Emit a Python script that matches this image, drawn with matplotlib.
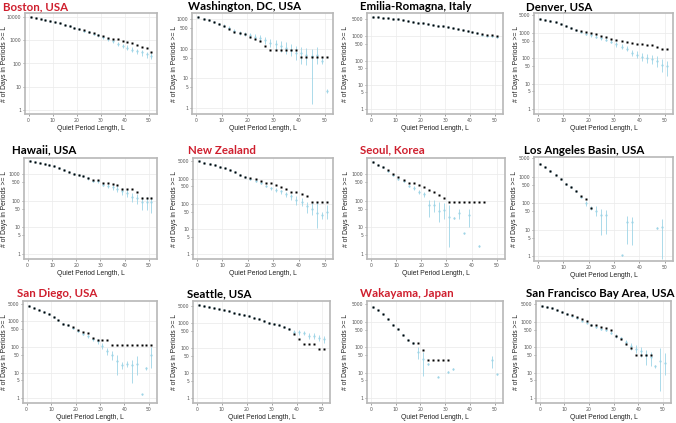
import numpy as np
import matplotlib
matplotlib.use('Agg')
import matplotlib.pyplot as plt
from matplotlib.ticker import FixedLocator, FixedFormatter, NullLocator

nan = np.nan
L = list(range(1, 52, 2))

# ---------------- data (counts) ----------------
boston_obs = [10200, 9300, 8500, 7800, 6900, 6200, 5500, 4800, 4300, 3600, 3100, 2700, 2400, 2000, 1700, 1500, 1300, 1200, 1100, 980, 870, 760, 630, 540, 450, 300]
boston_sim = [10200, 9300, 8500, 7800, 6900, 6200, 5500, 4800, 4200, 3500, 3000, 2600, 2300, 1950, 1650, 1350, 1100, 900, 710, 580, 490, 400, 340, 300, 250, 215]
boston_lo = [9900, 9000, 8200, 7500, 6600, 5900, 5200, 4500, 3900, 3200, 2700, 2300, 2000, 1700, 1400, 1150, 930, 740, 580, 460, 380, 310, 260, 220, 180, 150]
boston_hi = [10500, 9600, 8800, 8100, 7200, 6500, 5800, 5100, 4500, 3800, 3300, 2900, 2600, 2200, 1900, 1550, 1300, 1070, 860, 710, 610, 510, 440, 390, 330, 290]

wash_obs = [1120, 1000, 930, 760, 660, 590, 460, 355, 325, 300, 235, 205, 180, 126, 93, 93, 93, 93, 93, 93, 54, 54, 54, 54, 54, 54]
wash_sim = [1120, 1000, 910, 760, 660, 575, 490, 380, 330, 310, 275, 245, 220, 190, 155, 138, 120, 107, 93, 72, 69, 63, 56, 63, 38, 3.9]
wash_lo = [1050, 940, 850, 700, 600, 520, 430, 330, 280, 260, 225, 195, 170, 145, 115, 95, 75, 65, 55, 40, 30, 28, 1.4, 30, 30, 3.3]
wash_hi = [1190, 1070, 980, 830, 720, 640, 560, 440, 390, 370, 330, 300, 275, 245, 210, 195, 180, 165, 145, 120, 110, 105, 100, 110, 50, 4.5]

emilia_obs = [6300, 6000, 5750, 5500, 5250, 4900, 4570, 4270, 3980, 3630, 3310, 3090, 2880, 2690, 2510, 2340, 2140, 1950, 1820, 1660, 1550, 1410, 1260, 1150, 1070, 1000]
emilia_sim = [6300, 6000, 5750, 5500, 5250, 4900, 4570, 4270, 3980, 3630, 3310, 3090, 2880, 2690, 2500, 2300, 2100, 1900, 1750, 1580, 1460, 1320, 1170, 1060, 980, 900]
emilia_lo = [6000, 5700, 5450, 5220, 4980, 4650, 4340, 4050, 3780, 3450, 3140, 2930, 2730, 2550, 2370, 2180, 1990, 1800, 1650, 1490, 1370, 1240, 1090, 990, 910, 830]
emilia_hi = [6600, 6300, 6050, 5780, 5520, 5150, 4800, 4490, 4180, 3810, 3480, 3250, 3030, 2830, 2630, 2420, 2210, 2000, 1850, 1670, 1550, 1400, 1250, 1130, 1050, 970]

denver_obs = [3630, 3240, 2950, 2570, 2140, 1910, 1550, 1350, 1200, 1100, 1000, 890, 760, 680, 575, 515, 470, 450, 400, 380, 365, 340, 325, 275, 230, 230]
denver_sim = [3630, 3240, 2950, 2570, 2140, 1910, 1550, 1260, 1070, 930, 790, 710, 600, 525, 450, 355, 280, 235, 160, 140, 112, 100, 95, 76, 56, 50]
denver_lo = [3450, 3080, 2800, 2440, 2030, 1810, 1450, 1170, 980, 850, 710, 630, 530, 460, 385, 290, 225, 185, 120, 100, 78, 68, 60, 45, 30, 20]
denver_hi = [3800, 3400, 3100, 2700, 2250, 2010, 1650, 1350, 1160, 1010, 870, 790, 680, 600, 525, 430, 350, 300, 210, 190, 160, 145, 140, 120, 95, 80]

hawaii_obs = [3160, 2880, 2630, 2450, 2190, 2000, 1660, 1410, 1200, 1000, 910, 870, 710, 590, 590, 460, 460, 430, 390, 270, 270, 270, 220, 130, 130, 130]
hawaii_sim = [3160, 2880, 2630, 2450, 2190, 2000, 1660, 1410, 1200, 1000, 890, 830, 680, 560, 525, 400, 355, 315, 280, 225, 200, 140, 125, 90, 90, 90]
hawaii_lo = [3000, 2730, 2490, 2320, 2070, 1890, 1570, 1330, 1130, 940, 830, 770, 620, 500, 460, 340, 290, 250, 210, 160, 140, 90, 75, 45, 45, 35]
hawaii_hi = [3320, 3030, 2770, 2580, 2310, 2110, 1750, 1490, 1270, 1060, 950, 890, 740, 620, 590, 460, 420, 380, 350, 290, 270, 200, 180, 140, 140, 140]

nz_obs = [5100, 4470, 3980, 3550, 3090, 2690, 2290, 1910, 1450, 1170, 1070, 980, 850, 710, 680, 560, 470, 400, 295, 295, 255, 215, 123, 123, 123, 123]
nz_sim = [5100, 4470, 3980, 3550, 3090, 2690, 2290, 1900, 1420, 1140, 955, 795, 675, 525, 425, 370, 315, 250, 200, 140, 125, 80, 63, 45, 35, 50]
nz_lo = [4850, 4250, 3780, 3370, 2930, 2550, 2170, 1790, 1330, 1060, 880, 720, 600, 460, 360, 310, 255, 195, 150, 95, 85, 45, 35, 11, 25, 25]
nz_hi = [5350, 4700, 4180, 3730, 3250, 2830, 2410, 2010, 1510, 1220, 1030, 870, 750, 590, 490, 430, 375, 310, 255, 200, 180, 125, 110, 120, 50, 90]

seoul_obs = [2880, 2240, 1780, 1380, 980, 790, 600, 470, 445, 380, 330, 255, 210, 165, 123, 91, 91, 91, 91, 91, 91, 91, 91, nan, nan, nan]
seoul_sim = [2880, 2240, 1780, 1260, 890, 660, 525, 355, 300, 210, 178, 71, 71, 40, 45, 24, 23, 35, 5.9, 30, nan, 2.0, nan, nan, nan, nan]
seoul_lo = [2750, 2130, 1680, 1180, 830, 610, 480, 315, 260, 170, 140, 25, 38, 16, 20, 1.8, 21, 20, 5.5, 10, nan, 1.9, nan, nan, nan, nan]
seoul_hi = [3000, 2350, 1880, 1340, 950, 710, 570, 395, 340, 250, 215, 107, 107, 91, 85, 68, 25, 50, 6.3, 50, nan, 2.1, nan, nan, nan, nan]

la_obs = [3090, 2340, 1660, 1200, 790, 540, 410, 290, 185, 145, 66, nan, nan, nan, nan, nan, nan, nan, nan, nan, nan, nan, nan, nan, nan, nan]
la_sim = [3090, 2340, 1660, 1200, 790, 540, 410, 290, 178, 100, 66, 50, 35, 35, nan, nan, 1.07, 20, 18.6, nan, nan, nan, nan, 11.2, 12.6, nan]
la_lo = [2950, 2230, 1580, 1140, 750, 510, 385, 270, 165, 80, 55, 32, 6, 6.8, nan, nan, 1.0, 2.8, 2.5, nan, nan, nan, nan, 10.5, 0.8, nan]
la_hi = [3230, 2450, 1740, 1260, 830, 570, 435, 310, 192, 120, 78, 80, 60, 53, nan, nan, 1.1, 34, 30, nan, nan, nan, nan, 12, 25, nan]

sd_obs = [4000, 3470, 2880, 2340, 1950, 1480, 1100, 810, 710, 600, 480, 390, 340, 235, 186, 186, 186, 117, 117, 117, 117, 117, 117, 117, 117, 117]
sd_sim = [4000, 3470, 2880, 2340, 1950, 1480, 1100, 810, 700, 540, 415, 330, 265, 200, 166, 112, 71, 48, 28, 19, 22, 20, 22, 1.4, 15, 50]
sd_lo = [3800, 3300, 2740, 2220, 1850, 1400, 1040, 760, 650, 495, 375, 295, 230, 170, 135, 85, 50, 30, 8, 14, 16, 3.8, 8, 1.3, 13, 15]
sd_hi = [4200, 3640, 3020, 2460, 2050, 1560, 1160, 860, 750, 585, 455, 365, 300, 235, 200, 140, 95, 70, 48, 25, 28, 31, 45, 1.5, 17, 100]

seattle_obs = [5130, 4790, 4370, 3980, 3550, 3240, 2950, 2570, 2340, 2090, 1910, 1620, 1480, 1200, 1020, 930, 850, 690, 575, 370, 235, 148, 148, 148, 93, 93]
seattle_sim = [5130, 4790, 4370, 3980, 3550, 3240, 2950, 2570, 2340, 2090, 1910, 1620, 1480, 1200, 1020, 930, 850, 690, 575, 445, 425, 400, 315, 295, 250, 225]
seattle_lo = [4900, 4550, 4150, 3780, 3370, 3080, 2800, 2440, 2220, 1980, 1810, 1540, 1400, 1130, 960, 870, 790, 640, 520, 360, 340, 320, 240, 225, 185, 165]
seattle_hi = [5400, 5030, 4590, 4180, 3730, 3400, 3100, 2700, 2460, 2200, 2010, 1700, 1560, 1270, 1080, 990, 910, 740, 630, 550, 530, 500, 410, 385, 330, 310]

waka_obs = [3800, 2820, 1950, 1290, 780, 510, 310, 195, 148, 148, 78, 32, 32, 32, 32, 32, nan, nan, nan, nan, nan, nan, nan, nan, nan, nan]
waka_sim = [3800, 2820, 1950, 1290, 780, 510, 310, 195, 148, 63, 35, 22, nan, 7.1, nan, 10.7, 14, nan, nan, nan, nan, nan, nan, nan, 32, 8.9]
waka_lo = [3600, 2680, 1850, 1230, 740, 485, 295, 185, 140, 35, 7.5, 20, nan, 6.5, nan, 10, 13, nan, nan, nan, nan, nan, nan, nan, 15, 8.5]
waka_hi = [4000, 2960, 2050, 1350, 820, 535, 325, 205, 156, 100, 63, 24, nan, 7.5, nan, 11.4, 15, nan, nan, nan, nan, nan, nan, nan, 47, 9.3]

sf_obs = [4170, 3800, 3390, 2880, 2450, 2090, 1780, 1510, 1260, 1070, 760, 720, 645, 590, 480, 275, 205, 132, 91, 49, 49, 49, 49, nan, nan, nan]
sf_sim = [4170, 3800, 3390, 2880, 2450, 2090, 1740, 1410, 1120, 930, 725, 630, 540, 480, 380, 280, 225, 158, 112, 89, 71, 50, 40, 18, 28, 25]
sf_lo = [3970, 3620, 3230, 2740, 2330, 1990, 1650, 1330, 1050, 870, 670, 580, 490, 430, 335, 240, 185, 125, 80, 60, 40, 20, 18, 16, 2, 8]
sf_hi = [4370, 3990, 3560, 3020, 2570, 2190, 1830, 1490, 1190, 990, 780, 680, 590, 530, 425, 320, 265, 195, 150, 125, 105, 80, 65, 20, 90, 60]

titles = ["Boston, USA", "Washington, DC, USA", "Emilia-Romagna, Italy", "Denver, USA",
          "Hawaii, USA", "New Zealand", "Seoul, Korea", "Los Angeles Basin, USA",
          "San Diego, USA", "Seattle, USA", "Wakayama, Japan", "San Francisco Bay Area, USA"]
red_titles = {"Boston, USA", "New Zealand", "Seoul, Korea", "San Diego, USA", "Wakayama, Japan"}

series = [
    (boston_obs, boston_sim, boston_lo, boston_hi),
    (wash_obs, wash_sim, wash_lo, wash_hi),
    (emilia_obs, emilia_sim, emilia_lo, emilia_hi),
    (denver_obs, denver_sim, denver_lo, denver_hi),
    (hawaii_obs, hawaii_sim, hawaii_lo, hawaii_hi),
    (nz_obs, nz_sim, nz_lo, nz_hi),
    (seoul_obs, seoul_sim, seoul_lo, seoul_hi),
    (la_obs, la_sim, la_lo, la_hi),
    (sd_obs, sd_sim, sd_lo, sd_hi),
    (seattle_obs, seattle_sim, seattle_lo, seattle_hi),
    (waka_obs, waka_sim, waka_lo, waka_hi),
    (sf_obs, sf_sim, sf_lo, sf_hi),
]

# ---------------- layout (pixels) ----------------
W, H = 676, 423
boxes = [  # left, right, top, bottom
    (25, 157, 13, 114), (192, 333, 13, 114), (367, 503, 13, 114), (534, 673, 13, 114),
    (24, 157, 158, 259), (193, 333, 158, 259), (367, 505, 158, 259), (534, 673, 157, 261),
    (23, 157, 301, 403), (193, 330, 301, 403), (367, 503, 301, 403), (536, 671, 301, 403),
]
ylabel_x = [5, 175, 346, 516, 5, 175, 347, 514, 5, 175, 346, 516]
ytops = [4.19, 3.19, 3.95, 3.78, 3.6, 3.83, 3.6, 3.75, 3.8, 3.88, 3.82, 3.82]
title_x = [3, 188, 360, 526, 12, 188, 360, 524, 17, 187, 360, 526]
title_y = [6.5, 6.5, 6.5, 6.5, 150, 150, 150, 150, 293.5, 293.5, 293.5, 293.5]

RED = '#cf1f2e'
BLUE = '#9ed4e6'
FRAME = '#b8b8b8'
GRID = '#ececec'
TICKC = '#555555'

fig = plt.figure(figsize=(W / 100, H / 100), dpi=100)

for i, (obs, sim, lo, hi) in enumerate(series):
    l, r, t, b = boxes[i]
    ax = fig.add_axes([l / W, 1 - b / H, (r - l) / W, (b - t) / H])
    ax.set_yscale('log')
    ylo, yhi = 10 ** -0.19, 10 ** ytops[i]
    ax.set_xlim(-1.5, 53.3)
    ax.set_ylim(ylo, yhi)

    x = np.array(L, dtype=float)
    s = np.array(sim, dtype=float)
    lo_a = np.array(lo, dtype=float)
    hi_a = np.array(hi, dtype=float)
    o = np.array(obs, dtype=float)

    for xv in [0, 10, 20, 30, 40, 50]:
        ax.axvline(xv, color=GRID, lw=0.5, zorder=0)
    for yv in [1, 10, 100, 1000, 10000]:
        if yv < yhi:
            ax.axhline(yv, color=GRID, lw=0.6, zorder=0)

    ax.vlines(x, lo_a, hi_a, color=BLUE, lw=0.6, zorder=2)
    ax.plot(x, s, 'o', ms=1.6, color=BLUE, mec='none', zorder=3)
    ax.plot(x, o, 's', ms=2.1, color='black', mec='none', zorder=4)

    if i == 0:
        ticks = [1, 10, 100, 1000, 10000]
    else:
        ticks = [1, 5, 10, 50, 100, 500, 1000, 5000]
    ticks = [tk for tk in ticks if tk <= yhi]
    ax.yaxis.set_major_locator(FixedLocator(ticks))
    ax.yaxis.set_major_formatter(FixedFormatter([str(tk) for tk in ticks]))
    ax.yaxis.set_minor_locator(NullLocator())
    ax.set_xticks([0, 10, 20, 30, 40, 50])
    ax.xaxis.set_minor_locator(NullLocator())

    ax.tick_params(axis='both', labelsize=3.3, colors=TICKC, length=1.5, width=0.4, pad=1.2)
    for sp in ax.spines.values():
        sp.set_color(FRAME)
        sp.set_linewidth(1.2)

    ax.set_xlabel('Quiet Period Length, L', fontsize=4.9, color='#222222', labelpad=1.5,
                  family='Liberation Sans')
    ax.set_ylabel('# of Days in Periods >= L', fontsize=4.9, color='#222222',
                  family='Liberation Sans', va='center')
    ax.yaxis.set_label_coords(ylabel_x[i] / W, 1 - (t + b) / 2 / H, transform=fig.transFigure)

    name = titles[i]
    fig.text(title_x[i] / W, 1 - title_y[i] / H, name, fontsize=8.3, fontweight='bold',
             family='Lato', color=RED if name in red_titles else 'black',
             ha='left', va='center')

fig.savefig('out.png', dpi=100)
